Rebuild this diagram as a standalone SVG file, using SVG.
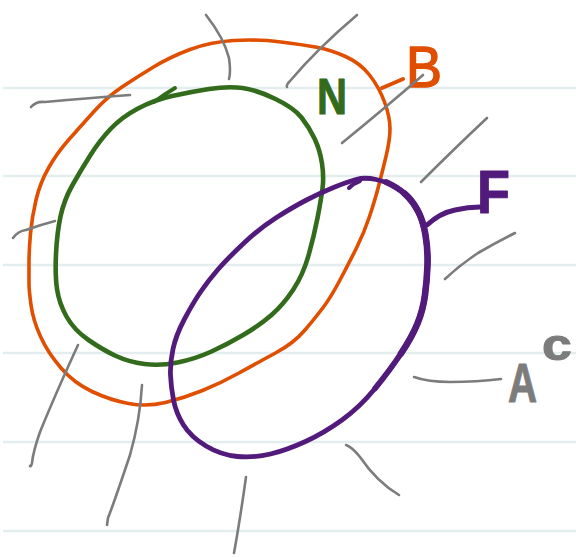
<svg xmlns="http://www.w3.org/2000/svg" width="576" height="557" viewBox="0 0 576 557">
<style>
.rule{stroke:#e3eded;stroke-width:2.5;fill:none}
.set{fill:none;stroke-linecap:round;stroke-linejoin:round}
.orange{stroke:#e04e00}
.green{stroke:#326b1b}
.purple{stroke:#521b7b}
.hatch{fill:none;stroke:#7c7c7c;stroke-width:2.6;stroke-linecap:round;stroke-linejoin:round}
.lbl{font-family:"Liberation Sans",Arial,sans-serif;stroke-linejoin:round}
</style>
<rect width="576" height="557" fill="#ffffff"/>
<g id="ruling">
<line class="rule" x1="3" y1="88" x2="576" y2="88"/>
<line class="rule" x1="3" y1="176" x2="576" y2="176"/>
<line class="rule" x1="3" y1="265" x2="576" y2="265"/>
<line class="rule" x1="3" y1="353" x2="576" y2="353"/>
<line class="rule" x1="3" y1="442" x2="576" y2="442"/>
<line class="rule" x1="3" y1="531" x2="576" y2="531"/>
</g>
<g id="set-B">
<path class="set orange" stroke-width="3.6" d="M233.5,40.5 Q257,39 281,42 Q305,45 318,47.5 Q331,50 345.5,56.5 Q360,63 369.5,75 Q379,87 384.5,102 Q390,117 390,128.5 Q390,140 386,156.5 Q382,173 378.5,186.5 Q375,200 369.5,216.5 Q364,233 356.5,248 Q349,263 340,280 Q331,297 323.5,307 Q316,317 305,330 Q294,343 275.5,353 Q257,363 239,373 Q221,383 202.5,390.5 Q184,398 165.5,402.5 Q147,407 128.5,403.5 Q110,400 92,391.5 Q74,383 61,368 Q48,353 40.5,336.5 Q33,320 31,305 Q29,290 29,283.5 Q29,277 29,263.5 Q29,250 30.5,233.5 Q32,217 36,200 Q40,183 48.5,168 Q57,153 68.5,140 Q80,127 93.5,112 Q107,97 122,87 Q137,77 153.5,67 Q170,57 190,49.5 Q210,42 233.5,40.5 Z"/>
<text class="lbl" x="406" y="87" font-size="57" fill="#e04e00" stroke="#e04e00" stroke-width="1.5" textLength="36" lengthAdjust="spacingAndGlyphs">B</text>
</g>
<g id="set-N">
<path class="set green" stroke-width="4.6" d="M172,96 Q190,92 209,89 Q228,86 242.5,88 Q257,90 275.5,99 Q294,108 301.5,117.5 Q309,127 314.5,138.5 Q320,150 322,163.5 Q324,177 322.5,188.5 Q321,200 317.5,218 Q314,236 308.5,255.5 Q303,275 293,290 Q283,305 271.5,315 Q260,325 244,334.5 Q228,344 211.5,351.5 Q195,359 177.5,362.5 Q160,366 144.5,364 Q129,362 116,356 Q103,350 88.5,340 Q74,330 66.5,316.5 Q59,303 57,289 Q55,275 56,254 Q57,233 60.5,216.5 Q64,200 72.5,185 Q81,170 90.5,155 Q100,140 111,128.5 Q122,117 138,108.5 Q154,100 172,96 Z"/>
<path class="set green" stroke-width="4" d="M175,88 Q165,94 154,102"/>
<text class="lbl" x="317" y="114" font-size="50" font-weight="bold" fill="#326b1b" stroke="#326b1b" stroke-width="1" textLength="30" lengthAdjust="spacingAndGlyphs">N</text>
</g>
<g id="set-F">
<path class="set purple" stroke-width="4.8" d="M356,179.5 Q365,177 376,179.5 Q387,182 394.5,186.5 Q402,191 407.5,197 Q413,203 418,212.5 Q423,222 425.5,236 Q428,250 427.5,265 Q427,280 425,295 Q423,310 417.5,323.5 Q412,337 401,353.5 Q390,370 375,388.5 Q360,407 342,420 Q324,433 305.5,441.5 Q287,450 270.5,454 Q254,458 237.5,456.5 Q221,455 206,446 Q191,437 183.5,425 Q176,413 173.5,400 Q171,387 170.5,375 Q170,363 173,349 Q176,335 184.5,319 Q193,303 200.5,292 Q208,281 217.5,270 Q227,259 243.5,243.5 Q260,228 276.5,217.5 Q293,207 306.5,200 Q320,193 333.5,187.5 Q347,182 356,179.5 Z"/>
<path class="set purple" stroke-width="5.8" d="M386,182 Q397,187 404.5,193.5 Q412,200 417.5,210 Q423,220 425.5,235 Q428,250 427.5,265 Q427,280 425,295 Q423,310 417.5,323.5 Q412,337 401,353.5 Q390,370 375,388.5"/>
<path class="set purple" stroke-width="6.6" d="M404.5,193.5 Q412,200 417.5,210 Q423,220 425.5,235 Q428,250 427.5,265 Q427,280 425,295 Q423,310 417.5,323.5 Q412,337 401,353.5"/>
<path class="set purple" stroke-width="4" d="M349,188 Q354,183 360,181"/>
<text class="lbl" x="477" y="213" font-size="62" font-weight="bold" fill="#521b7b" stroke="#521b7b" stroke-width="1" textLength="33" lengthAdjust="spacingAndGlyphs">F</text>
</g>
<g id="connectors">
<path class="set orange" stroke-width="4" d="M382,88 L403,79"/>
<path class="set purple" stroke-width="5" d="M427,225 Q440,213 455,210 Q468,207 480,207"/>
<path class="hatch" d="M414,377 Q428,382 450,382 Q477,382 501,379"/>
</g>
<g id="complement-hatching">
<path class="hatch" d="M206,15 Q224,38 229,58 Q231,72 229,79"/>
<path class="hatch" d="M357,15 Q318,48 290,81 Q286,85 287,87"/>
<path class="hatch" d="M31,107 Q36,101 45,102 Q90,98 130,95"/>
<path class="hatch" d="M342,143 Q385,108 423,75"/>
<path class="hatch" d="M421,182 Q455,148 487,118"/>
<path class="hatch" d="M13,238 Q18,231 26,230 Q40,225 55,221"/>
<path class="hatch" d="M445,279 Q460,265 478,253 Q497,242 515,233"/>
<path class="hatch" d="M78,345 Q55,395 40,432 Q33,452 32,463 Q31,467 30,466"/>
<path class="hatch" d="M142,385 Q140,420 130,455 Q115,500 108,518 L107,525"/>
<path class="hatch" d="M246,477 Q240,520 234,553"/>
<path class="hatch" d="M346,445 Q352,447 360,457 Q377,482 399,495"/>
</g>
<g id="label-Ac">
<text class="lbl" transform="translate(508,402) scale(0.72,1)" font-size="56" font-weight="bold" fill="#7c7c7c" stroke="#7c7c7c" stroke-width="1">A</text>
<text class="lbl" transform="translate(542,360) scale(1.22,1)" font-size="44" font-weight="bold" fill="#7c7c7c" stroke="#7c7c7c" stroke-width="1">c</text>
</g>
</svg>
